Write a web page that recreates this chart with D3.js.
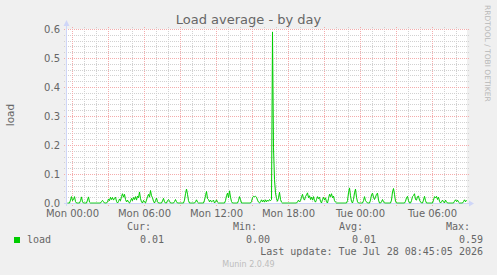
<!DOCTYPE html>
<html>
<head>
<meta charset="utf-8">
<script src="https://cdn.jsdelivr.net/npm/d3@7"></script>
<style>
  body { margin: 0; background: #f0f0f0; }
  svg { display: block; }
</style>
</head>
<body>
<script>
// Munin "Load average - by day" graph, 5 minute samples, one per pixel

var width = 497,
    height = 275;

// Plot box
const plotLeft = 67,
      plotTop = 29,
      plotWidth = 400,
      plotHeight = 174;

// Data
const startTime = new Date(2026, 6, 26, 23, 35);
const stepMinutes = 5;

const loadValues = [
  0, 0, 0, .01, .022, .008, .012, .022, .005, 0, 0, 0, 0, .008, .021, .004, 0, 0, 0, 0,
  .01, .021, .003, 0, 0, 0, 0, 0, 0, 0, 0, 0, 0, 0, .005, .009, .004, 0, 0, 0,
  .004, .014, .008, .02, .012, .019, .01, .016, .02, .006, 0, .005, .014, .008, .022, .032, .02, .03, .012, .004,
  .01, .003, 0, .006, .016, .008, .019, .012, .022, .01, .024, .018, .038, .015, .004, 0, .009, .003, 0, .01,
  .022, .03, .02, .043, .025, .018, .006, 0, .008, .017, .005, 0, 0, 0, 0, .007, .016, .004, 0, 0,
  .008, .012, .006, 0, 0, 0, 0, .005, .012, .004, 0, 0, 0, 0, 0, 0, 0, .01, .032, .048,
  .03, .008, 0, 0, 0, 0, 0, 0, .004, .011, .003, 0, 0, 0, 0, 0, 0, .01, .025, .04,
  .015, .012, .004, .01, .004, .006, .01, 0, .004, .011, .003, 0, 0, 0, 0, 0, 0, 0, .008, .025,
  .034, .018, .042, .02, .005, 0, 0, 0, 0, 0, 0, .008, .022, .012, 0, 0, 0, 0, 0, 0,
  0, 0, 0, 0, .005, .018, .023, .022, .023, .02, .01, .003, 0, .004, .011, .004, .01, .003, .011, .004,
  .01, .006, .012, .008, .012, .59, .19, .08, .035, .015, .006, .018, .037, .012, .003, 0, 0, 0, 0, 0,
  0, 0, 0, 0, 0, 0, 0, 0, 0, 0, .004, .01, .004, .008, .02, .03, .015, .01, .022, .028,
  .035, .018, .025, .012, .02, .01, .022, .008, .003, .012, .022, .015, .02, .006, 0, .012, .02, .01, .018, .004,
  0, .015, .03, .022, .032, .018, .024, .008, .003, 0, 0, 0, 0, 0, 0, 0, 0, 0, 0, 0,
  .008, .035, .052, .025, .005, 0, .012, .035, .048, .02, .004, 0, 0, 0, 0, 0, .008, .022, .008, .004,
  0, 0, 0, .01, .028, .034, .02, .012, .02, .03, .034, .01, 0, 0, .004, .012, .004, 0, 0, 0,
  0, 0, 0, 0, .01, .038, .05, .03, .006, 0, 0, 0, 0, 0, 0, 0, 0, 0, .006, .018,
  .023, .008, 0, 0, .008, .022, .026, .032, .012, .01, .022, .024, .01, .004, 0, 0, .01, .023, .008, 0,
  0, 0, 0, 0, 0, 0, .01, .022, .018, .023, .012, .02, .006, 0, .004, .01, .004, 0, .01, .004,
  0, 0, 0, 0, 0, 0, 0, .006, .011, .005, .01, .003, 0, 0, 0, 0, .005, .011, .004, .01
];

const yTickValues = [0, 0.1, 0.2, 0.3, 0.4, 0.5, 0.6];
const legendHeads = ['Cur:', 'Min:', 'Avg:', 'Max:'];
const legendValues = ['0.01', '0.00', '0.01', '0.59'];
const lastUpdate = 'Last update: Tue Jul 28 08:45:05 2026';

// Colours (munin defaults)
const fontColor = '#666666';
const axisColor = '#cfd6f8';
const gridColor = '#d1d1d1';
const majorGridColor = '#f4acac';
const lineColor = '#00cc00';

const endTime = d3.timeMinute.offset(startTime, loadValues.length * stepMinutes);

var x = d3.scaleTime()
    .domain([startTime, endTime])
    .range([plotLeft, plotLeft + plotWidth]);

var y = d3.scaleLinear()
    .domain([0, 0.6])
    .range([plotTop + plotHeight, plotTop]);

var svg = d3.select('body').append('svg')
    .attr('width', width)
    .attr('height', height)
    .style('font-family', 'DejaVu Sans, sans-serif');

svg.append('rect')
    .attr('width', width)
    .attr('height', height)
    .attr('fill', '#f0f0f0');

// Canvas
svg.append('rect')
    .attr('x', plotLeft)
    .attr('y', plotTop)
    .attr('width', plotWidth)
    .attr('height', plotHeight)
    .attr('fill', '#ffffff');

// Title
svg.append('text')
    .attr('x', 248.5)
    .attr('y', 24)
    .attr('text-anchor', 'middle')
    .attr('font-size', 13)
    .attr('fill', fontColor)
    .text('Load average - by day');

// Horizontal grid: minor every 0.02, major every 0.1
var hMinor = y.ticks(30).filter(function(v) { return Math.round(v * 50) % 5 != 0; });

svg.selectAll('.hminor')
    .data(hMinor)
    .enter()
    .append('line')
    .attr('class', 'hminor')
    .attr('x1', plotLeft - 3)
    .attr('x2', plotLeft + plotWidth + 2)
    .attr('y1', function(d) { return Math.round(y(d)) + 0.5; })
    .attr('y2', function(d) { return Math.round(y(d)) + 0.5; })
    .attr('stroke', gridColor)
    .attr('stroke-dasharray', '1,1');

// Vertical grid: minor every hour, major every 3 hours
var vMinor = d3.timeHour.range(startTime, endTime)
    .filter(function(d) { return d.getHours() % 3 != 0; });
var vMajor = d3.timeHour.every(3).range(startTime, endTime);

svg.selectAll('.vminor')
    .data(vMinor)
    .enter()
    .append('line')
    .attr('class', 'vminor')
    .attr('x1', function(d) { return Math.round(x(d)) + 0.5; })
    .attr('x2', function(d) { return Math.round(x(d)) + 0.5; })
    .attr('y1', plotTop - 2)
    .attr('y2', plotTop + plotHeight + 2)
    .attr('stroke', gridColor)
    .attr('stroke-dasharray', '1,1');

svg.selectAll('.hmajor')
    .data(yTickValues)
    .enter()
    .append('line')
    .attr('class', 'hmajor')
    .attr('x1', plotLeft - 3)
    .attr('x2', plotLeft + plotWidth + 2)
    .attr('y1', function(d) { return Math.round(y(d)) + 0.5; })
    .attr('y2', function(d) { return Math.round(y(d)) + 0.5; })
    .attr('stroke', majorGridColor)
    .attr('stroke-dasharray', '1,1');

svg.selectAll('.vmajor')
    .data(vMajor)
    .enter()
    .append('line')
    .attr('class', 'vmajor')
    .attr('x1', function(d) { return Math.round(x(d)) + 0.5; })
    .attr('x2', function(d) { return Math.round(x(d)) + 0.5; })
    .attr('y1', plotTop - 2)
    .attr('y2', plotTop + plotHeight + 3)
    .attr('stroke', majorGridColor)
    .attr('stroke-dasharray', '1,1');

// Axes with arrows
svg.append('line')
    .attr('x1', plotLeft - 0.5)
    .attr('x2', plotLeft - 0.5)
    .attr('y1', plotTop + plotHeight + 3)
    .attr('y2', plotTop - 4)
    .attr('stroke', axisColor);

svg.append('path')
    .attr('d', 'M' + (plotLeft - 3.5) + ',' + (plotTop - 3) + 'L' + (plotLeft + 2.5) + ',' + (plotTop - 3) + 'L' + (plotLeft - 0.5) + ',' + (plotTop - 9) + 'Z')
    .attr('fill', axisColor);

svg.append('line')
    .attr('x1', plotLeft - 3)
    .attr('x2', plotLeft + plotWidth + 3)
    .attr('y1', plotTop + plotHeight + 0.5)
    .attr('y2', plotTop + plotHeight + 0.5)
    .attr('stroke', axisColor);

svg.append('path')
    .attr('d', 'M' + (plotLeft + plotWidth + 2) + ',' + (plotTop + plotHeight - 2.5) + 'L' + (plotLeft + plotWidth + 2) + ',' + (plotTop + plotHeight + 3.5) + 'L' + (plotLeft + plotWidth + 7) + ',' + (plotTop + plotHeight + 0.5) + 'Z')
    .attr('fill', axisColor);

// Y tick labels
svg.selectAll('.ylabel')
    .data(yTickValues)
    .enter()
    .append('text')
    .attr('class', 'ylabel')
    .attr('x', 60)
    .attr('y', function(d) { return y(d); })
    .attr('dy', '0.36em')
    .attr('text-anchor', 'end')
    .attr('font-size', 10)
    .attr('fill', fontColor)
    .text(d3.format('.1f'));

// X tick labels every 6 hours
var timeLabel = d3.timeFormat('%a %H:%M');
svg.selectAll('.xlabel')
    .data(d3.timeHour.every(6).range(startTime, endTime))
    .enter()
    .append('text')
    .attr('class', 'xlabel')
    .attr('x', function(d) { return x(d) + 0.5; })
    .attr('y', 217)
    .attr('text-anchor', 'middle')
    .attr('font-size', 10)
    .attr('fill', fontColor)
    .text(timeLabel);

// Y axis title
svg.append('text')
    .attr('transform', 'translate(14,115) rotate(-90)')
    .attr('text-anchor', 'middle')
    .attr('font-size', 10.5)
    .attr('fill', fontColor)
    .text('load');

// Watermark
svg.append('text')
    .attr('transform', 'translate(485,5) rotate(90)')
    .attr('font-size', 7.5)
    .attr('fill', '#b8b8b8')
    .text('RRDTOOL / TOBI OETIKER');

// Load line
var line = d3.line()
    .x(function(d, i) { return x(d3.timeMinute.offset(startTime, i * stepMinutes)) + 0.5; })
    .y(function(d) { return y(d); });

svg.append('path')
    .datum(loadValues)
    .attr('d', line)
    .attr('fill', 'none')
    .attr('stroke', lineColor)
    .attr('stroke-width', 1);

// Legend
var legend = svg.append('g')
    .attr('font-family', 'DejaVu Sans Mono, monospace')
    .attr('font-size', 10)
    .attr('fill', fontColor);

const legendEnds = [151, 257, 363, 470];

legend.selectAll('.head')
    .data(legendHeads)
    .enter()
    .append('text')
    .attr('class', 'head')
    .attr('x', function(d, i) { return legendEnds[i]; })
    .attr('y', 230)
    .attr('text-anchor', 'end')
    .text(function(d) { return d; });

legend.selectAll('.val')
    .data(legendValues)
    .enter()
    .append('text')
    .attr('class', 'val')
    .attr('x', function(d, i) { return legendEnds[i] + 13; })
    .attr('y', 243)
    .attr('text-anchor', 'end')
    .text(function(d) { return d; });

legend.append('rect')
    .attr('x', 14)
    .attr('y', 237)
    .attr('width', 6)
    .attr('height', 6)
    .attr('fill', lineColor);

legend.append('text')
    .attr('x', 27)
    .attr('y', 243)
    .text('load');

legend.append('text')
    .attr('x', 483)
    .attr('y', 255)
    .attr('text-anchor', 'end')
    .text(lastUpdate);

svg.append('text')
    .attr('x', 248.5)
    .attr('y', 267)
    .attr('text-anchor', 'middle')
    .attr('font-size', 8)
    .attr('fill', '#bdbdbd')
    .text('Munin 2.0.49');
</script>
</body>
</html>
